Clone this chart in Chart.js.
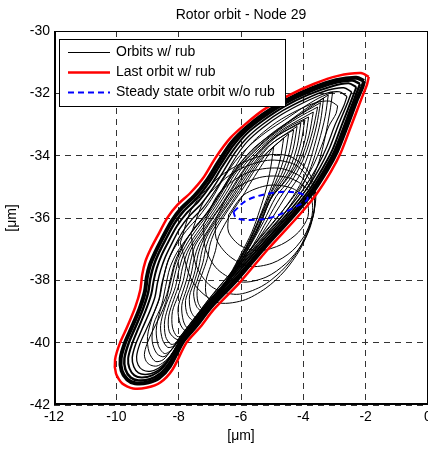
<!DOCTYPE html>
<html lang="en">
<head>
<meta charset="UTF-8">
<title>Rotor orbit - Node 29</title>
<script src="https://cdn.jsdelivr.net/npm/chart.js@4"></script>
<style>
  html, body { margin: 0; padding: 0; background: #fff; overflow: hidden; }
  #wrap { width: 428px; height: 449px; overflow: hidden; }
</style>
</head>
<body>
<div id="wrap"><canvas id="orbitChart" width="440" height="449"></canvas></div>
<script>
// axis ticks
const xTicks = [-12, -10, -8, -6, -4, -2, 0];
const yTicks = [-42, -40, -38, -36, -34, -32, -30];

// last orbit with rub (red), [x, y] in um
const lastOrbit = [
  [-1.90,-31.47],[-2.15,-31.35],[-2.89,-31.44],[-3.67,-31.70],[-4.50,-32.08],[-5.28,-32.53],
  [-5.85,-32.98],[-6.34,-33.43],[-6.82,-34.07],[-7.21,-34.71],[-7.62,-35.19],[-8.04,-35.58],
  [-8.36,-35.99],[-8.69,-36.60],[-8.91,-37.02],[-9.07,-37.40],[-9.17,-37.82],[-9.23,-38.30],
  [-9.39,-38.85],[-9.65,-39.49],[-9.88,-40.00],[-10.04,-40.54],[-10.01,-40.99],[-9.81,-41.31],
  [-9.46,-41.47],[-9.01,-41.44],[-8.59,-41.28],[-8.20,-40.87],[-7.75,-40.00],[-7.30,-39.49],
  [-6.88,-38.94],[-6.05,-38.08],[-5.15,-37.02],[-4.18,-35.96],[-3.60,-35.26],[-3.12,-34.52],
  [-2.80,-33.91],[-2.48,-33.08],[-2.15,-32.21],[-1.96,-31.73],[-1.90,-31.47]
];

// steady state orbit without rub (blue dashed)
const steadyOrbit = [
  [-6.24,-35.80],[-5.79,-35.42],[-4.95,-35.19],[-4.18,-35.19],[-3.86,-35.38],[-4.31,-35.67],
  [-5.05,-35.99],[-5.92,-36.06],[-6.18,-35.96],[-6.24,-35.80]
];

// transient orbits with rub (black)
const bandOrbit1 = [
  [-2.05,-31.60],[-2.30,-31.50],[-2.95,-31.58],[-3.75,-31.85],[-4.55,-32.22],[-5.30,-32.68],
  [-5.85,-33.12],[-6.30,-33.58],[-6.72,-34.20],[-7.10,-34.80],[-7.50,-35.30],[-7.92,-35.70],
  [-8.22,-36.10],[-8.55,-36.70],[-8.75,-37.10],[-8.92,-37.50],[-9.02,-37.90],[-9.08,-38.35],
  [-9.25,-38.90],[-9.50,-39.50],[-9.72,-40.00],[-9.86,-40.50],[-9.83,-40.90],[-9.65,-41.18],
  [-9.40,-41.30],[-9.00,-41.28],[-8.62,-41.12],[-8.28,-40.75],[-7.85,-39.95],[-7.40,-39.42],
  [-6.97,-38.86],[-6.15,-38.00],[-5.25,-36.95],[-4.30,-35.90],[-3.72,-35.20],[-3.24,-34.46],
  [-2.92,-33.86],[-2.60,-33.05],[-2.28,-32.20],[-2.10,-31.78],[-2.05,-31.60]
];
const bandOrbit1b = [
  [-2.18,-31.70],[-2.43,-31.59],[-3.03,-31.68],[-3.80,-31.95],[-4.58,-32.32],[-5.30,-32.78],
  [-5.84,-33.21],[-6.26,-33.68],[-6.66,-34.28],[-7.04,-34.88],[-7.43,-35.38],[-7.84,-35.78],
  [-8.14,-36.18],[-8.45,-36.75],[-8.65,-37.15],[-8.81,-37.55],[-8.91,-37.95],[-8.98,-38.40],
  [-9.15,-38.93],[-9.40,-39.53],[-9.61,-40.03],[-9.74,-40.50],[-9.71,-40.86],[-9.54,-41.12],
  [-9.29,-41.21],[-8.93,-41.17],[-8.59,-40.99],[-8.27,-40.60],[-7.88,-39.90],[-7.44,-39.38],
  [-7.01,-38.82],[-6.20,-37.96],[-5.30,-36.92],[-4.36,-35.88],[-3.79,-35.18],[-3.31,-34.43],
  [-2.99,-33.83],[-2.68,-33.03],[-2.37,-32.20],[-2.18,-31.70]
];
const bandOrbit2 = [
  [-2.30,-31.80],[-2.55,-31.68],[-3.10,-31.78],[-3.85,-32.05],[-4.60,-32.42],[-5.30,-32.88],
  [-5.82,-33.30],[-6.22,-33.78],[-6.60,-34.35],[-6.97,-34.95],[-7.35,-35.45],[-7.75,-35.85],
  [-8.05,-36.25],[-8.35,-36.80],[-8.55,-37.20],[-8.70,-37.60],[-8.80,-38.00],[-8.88,-38.45],
  [-9.05,-38.95],[-9.30,-39.55],[-9.50,-40.05],[-9.62,-40.50],[-9.58,-40.82],[-9.42,-41.05],
  [-9.18,-41.12],[-8.85,-41.05],[-8.55,-40.85],[-8.25,-40.45],[-7.90,-39.85],[-7.47,-39.33],
  [-7.05,-38.78],[-6.25,-37.92],[-5.35,-36.88],[-4.42,-35.85],[-3.85,-35.15],[-3.38,-34.40],
  [-3.06,-33.80],[-2.76,-33.00],[-2.45,-32.20],[-2.30,-31.80]
];
const bandOrbit2b = [
  [-2.45,-31.95],[-2.70,-31.82],[-3.23,-31.90],[-3.93,-32.18],[-4.65,-32.55],[-5.31,-33.00],
  [-5.81,-33.43],[-6.19,-33.90],[-6.55,-34.48],[-6.91,-35.05],[-7.28,-35.55],[-7.67,-35.95],
  [-7.97,-36.35],[-8.25,-36.88],[-8.44,-37.28],[-8.58,-37.68],[-8.68,-38.08],[-8.76,-38.53],
  [-8.93,-39.00],[-9.18,-39.58],[-9.38,-40.05],[-9.49,-40.48],[-9.44,-40.77],[-9.29,-40.97],
  [-9.05,-41.02],[-8.75,-40.94],[-8.48,-40.73],[-8.20,-40.35],[-7.88,-39.80],[-7.46,-39.28],
  [-7.05,-38.73],[-6.28,-37.87],[-5.40,-36.84],[-4.49,-35.82],[-3.93,-35.12],[-3.47,-34.38],
  [-3.16,-33.76],[-2.87,-33.00],[-2.58,-32.30],[-2.45,-31.95]
];
const bandOrbit3 = [
  [-2.60,-32.10],[-2.85,-31.95],[-3.35,-32.02],[-4.00,-32.30],[-4.70,-32.68],[-5.32,-33.12],
  [-5.80,-33.55],[-6.15,-34.02],[-6.50,-34.60],[-6.85,-35.15],[-7.20,-35.65],[-7.58,-36.05],
  [-7.88,-36.45],[-8.15,-36.95],[-8.33,-37.35],[-8.45,-37.75],[-8.55,-38.15],[-8.63,-38.60],
  [-8.80,-39.05],[-9.05,-39.60],[-9.25,-40.05],[-9.35,-40.45],[-9.30,-40.72],[-9.15,-40.88],
  [-8.92,-40.92],[-8.65,-40.82],[-8.40,-40.60],[-8.15,-40.25],[-7.85,-39.75],[-7.45,-39.22],
  [-7.05,-38.68],[-6.30,-37.82],[-5.45,-36.80],[-4.55,-35.78],[-4.00,-35.08],[-3.55,-34.35],
  [-3.25,-33.72],[-2.98,-33.00],[-2.70,-32.40],[-2.60,-32.10]
];
const bandOrbit4 = [
  [-2.90,-32.40],[-3.15,-32.25],[-3.60,-32.30],[-4.20,-32.55],[-4.85,-32.92],[-5.40,-33.35],
  [-5.82,-33.78],[-6.12,-34.25],[-6.45,-34.82],[-6.78,-35.35],[-7.10,-35.85],[-7.45,-36.25],
  [-7.72,-36.65],[-7.95,-37.10],[-8.12,-37.50],[-8.22,-37.90],[-8.32,-38.30],[-8.42,-38.72],
  [-8.60,-39.15],[-8.85,-39.65],[-9.02,-40.05],[-9.10,-40.38],[-9.04,-40.60],[-8.90,-40.72],
  [-8.70,-40.75],[-8.47,-40.62],[-8.25,-40.40],[-8.05,-40.10],[-7.80,-39.68],[-7.43,-39.15],
  [-7.05,-38.62],[-6.32,-37.75],[-5.52,-36.78],[-4.65,-35.75],[-4.12,-35.05],[-3.70,-34.35],
  [-3.42,-33.70],[-3.18,-33.05],[-2.95,-32.65],[-2.90,-32.40]
];
const fanOrbit1 = [
  [-3.06,-31.96],[-3.15,-32.60],[-3.30,-33.40],[-3.50,-34.20],[-3.80,-34.90],[-4.40,-35.75],
  [-5.30,-36.80],[-6.20,-37.80],[-7.00,-38.65],[-7.55,-39.30],[-7.95,-39.80],[-8.25,-40.25],
  [-8.50,-40.55],[-8.75,-40.60],[-8.95,-40.30],[-9.00,-39.80],[-8.85,-39.20],[-8.62,-38.60],
  [-8.50,-38.00],[-8.35,-37.40],[-8.10,-36.90],[-7.75,-36.40],[-7.35,-35.95],[-6.95,-35.40],
  [-6.60,-34.80],[-6.20,-34.20],[-5.75,-33.70],[-5.20,-33.25],[-4.60,-32.85],[-4.00,-32.45],
  [-3.50,-32.15],[-3.06,-31.96]
];
const fanOrbit1b = [
  [-3.20,-32.05],[-3.30,-32.75],[-3.50,-33.55],[-3.75,-34.35],[-4.05,-35.00],[-4.60,-35.85],
  [-5.45,-36.85],[-6.30,-37.85],[-7.05,-38.68],[-7.58,-39.32],[-7.95,-39.82],[-8.22,-40.22],
  [-8.47,-40.45],[-8.70,-40.35],[-8.85,-39.95],[-8.80,-39.40],[-8.55,-38.80],[-8.42,-38.20],
  [-8.28,-37.60],[-8.05,-37.10],[-7.70,-36.60],[-7.30,-36.10],[-6.90,-35.55],[-6.50,-34.95],
  [-6.10,-34.40],[-5.65,-33.90],[-5.10,-33.40],[-4.50,-32.95],[-3.85,-32.50],[-3.20,-32.05]
];
const fanOrbit2 = [
  [-3.35,-32.15],[-3.45,-32.90],[-3.65,-33.70],[-3.90,-34.50],[-4.20,-35.10],[-4.80,-35.95],
  [-5.60,-36.90],[-6.40,-37.85],[-7.10,-38.70],[-7.60,-39.35],[-7.95,-39.85],[-8.20,-40.20],
  [-8.45,-40.35],[-8.65,-40.10],[-8.72,-39.60],[-8.60,-39.00],[-8.38,-38.45],[-8.25,-37.90],
  [-8.10,-37.35],[-7.85,-36.85],[-7.50,-36.35],[-7.12,-35.90],[-6.75,-35.35],[-6.40,-34.75],
  [-6.00,-34.20],[-5.55,-33.72],[-5.00,-33.30],[-4.40,-32.85],[-3.85,-32.45],[-3.35,-32.15]
];
const fanOrbit2b = [
  [-3.45,-32.30],[-3.58,-33.05],[-3.80,-33.85],[-4.10,-34.60],[-4.50,-35.20],[-5.00,-36.00],
  [-5.60,-36.90],[-6.30,-37.80],[-6.95,-38.60],[-7.50,-39.30],[-7.90,-39.80],[-8.15,-40.10],
  [-8.35,-40.15],[-8.52,-39.90],[-8.58,-39.45],[-8.45,-38.90],[-8.25,-38.35],[-8.12,-37.80],
  [-7.98,-37.30],[-7.72,-36.80],[-7.38,-36.30],[-7.00,-35.80],[-6.65,-35.25],[-6.30,-34.65],
  [-5.90,-34.10],[-5.45,-33.65],[-4.90,-33.20],[-4.30,-32.80],[-3.45,-32.30]
];
const fanOrbit3 = [
  [-3.54,-32.44],[-3.70,-33.20],[-3.95,-34.00],[-4.30,-34.70],[-4.75,-35.35],[-5.15,-36.05],
  [-5.60,-36.85],[-6.10,-37.60],[-6.60,-38.35],[-7.05,-38.95],[-7.45,-39.45],[-7.80,-39.80],
  [-8.05,-40.00],[-8.25,-40.05],[-8.42,-39.80],[-8.45,-39.30],[-8.30,-38.75],[-8.10,-38.20],
  [-8.00,-37.70],[-7.85,-37.20],[-7.60,-36.75],[-7.25,-36.25],[-6.90,-35.75],[-6.55,-35.20],
  [-6.20,-34.60],[-5.80,-34.10],[-5.35,-33.65],[-4.80,-33.20],[-4.20,-32.80],[-3.54,-32.44]
];
const fanOrbit3b = [
  [-3.68,-32.60],[-3.82,-33.35],[-4.08,-34.12],[-4.45,-34.78],[-4.88,-35.32],[-5.28,-36.12],
  [-5.78,-37.02],[-6.30,-37.85],[-6.80,-38.55],[-7.22,-39.08],[-7.55,-39.48],[-7.82,-39.78],
  [-8.05,-39.90],[-8.30,-39.65],[-8.32,-39.15],[-8.16,-38.62],[-7.98,-38.10],[-7.88,-37.60],
  [-7.72,-37.10],[-7.48,-36.68],[-7.12,-36.18],[-6.78,-35.68],[-6.42,-35.12],[-6.08,-34.55],
  [-5.68,-34.05],[-5.22,-33.60],[-4.65,-33.15],[-3.68,-32.60]
];
const fanOrbit4 = [
  [-3.83,-32.76],[-3.95,-33.50],[-4.20,-34.25],[-4.60,-34.85],[-5.00,-35.30],[-5.40,-36.20],
  [-5.95,-37.20],[-6.50,-38.10],[-7.00,-38.75],[-7.40,-39.20],[-7.65,-39.50],[-7.85,-39.75],
  [-8.05,-39.80],[-8.20,-39.50],[-8.20,-39.00],[-8.02,-38.50],[-7.85,-38.00],[-7.75,-37.50],
  [-7.60,-37.00],[-7.35,-36.60],[-7.00,-36.10],[-6.65,-35.60],[-6.30,-35.05],[-5.95,-34.50],
  [-5.55,-34.00],[-5.10,-33.55],[-4.50,-33.10],[-3.83,-32.76]
];
const fanOrbit4b = [
  [-3.95,-32.85],[-4.08,-33.60],[-4.32,-34.35],[-4.70,-34.95],[-5.05,-35.40],[-5.40,-36.25],
  [-5.90,-37.20],[-6.45,-38.10],[-6.95,-38.75],[-7.35,-39.20],[-7.60,-39.50],[-7.78,-39.62],
  [-7.95,-39.40],[-8.02,-38.90],[-7.88,-38.40],[-7.72,-37.90],[-7.62,-37.40],[-7.48,-36.90],
  [-7.22,-36.50],[-6.90,-36.00],[-6.55,-35.50],[-6.20,-34.95],[-5.85,-34.40],[-5.45,-33.90],
  [-4.90,-33.40],[-3.95,-32.85]
];
const fanOrbit5 = [
  [-4.08,-32.95],[-4.20,-33.70],[-4.45,-34.45],[-4.80,-35.00],[-5.10,-35.50],[-5.45,-36.35],
  [-5.95,-37.30],[-6.45,-38.10],[-6.90,-38.70],[-7.25,-39.15],[-7.50,-39.45],[-7.70,-39.55],
  [-7.85,-39.30],[-7.90,-38.80],[-7.75,-38.30],[-7.60,-37.80],[-7.50,-37.30],[-7.35,-36.85],
  [-7.10,-36.45],[-6.78,-35.95],[-6.45,-35.45],[-6.10,-34.90],[-5.75,-34.35],[-5.35,-33.85],
  [-4.80,-33.35],[-4.08,-32.95]
];
const fanOrbit5b = [
  [-4.20,-33.06],[-4.33,-33.80],[-4.58,-34.52],[-4.90,-35.08],[-5.20,-35.65],[-5.52,-36.42],
  [-6.00,-37.32],[-6.48,-38.10],[-6.90,-38.68],[-7.22,-39.10],[-7.48,-39.32],[-7.72,-39.10],
  [-7.78,-38.65],[-7.62,-38.18],[-7.47,-37.68],[-7.38,-37.18],[-7.22,-36.72],[-6.98,-36.32],
  [-6.66,-35.85],[-6.32,-35.35],[-5.98,-34.80],[-5.62,-34.28],[-5.15,-33.72],[-4.20,-33.06]
];
const fanOrbit6 = [
  [-4.31,-33.17],[-4.45,-33.90],[-4.70,-34.60],[-5.00,-35.15],[-5.30,-35.80],[-5.60,-36.50],
  [-6.05,-37.35],[-6.50,-38.10],[-6.90,-38.65],[-7.20,-39.05],[-7.45,-39.20],[-7.62,-38.95],
  [-7.65,-38.50],[-7.50,-38.05],[-7.35,-37.55],[-7.25,-37.05],[-7.10,-36.60],[-6.85,-36.20],
  [-6.55,-35.75],[-6.20,-35.25],[-5.85,-34.70],[-5.50,-34.20],[-5.00,-33.60],[-4.31,-33.17]
];
const fanOrbit6b = [
  [-4.47,-33.30],[-4.60,-34.02],[-4.83,-34.70],[-5.10,-35.30],[-5.40,-36.00],[-5.72,-36.72],
  [-6.15,-37.50],[-6.58,-38.20],[-6.92,-38.70],[-7.20,-39.00],[-7.42,-38.85],[-7.52,-38.40],
  [-7.38,-37.92],[-7.22,-37.42],[-7.12,-36.92],[-6.95,-36.48],[-6.70,-36.08],[-6.38,-35.62],
  [-6.05,-35.12],[-5.70,-34.58],[-5.32,-34.05],[-4.47,-33.30]
];
const fanOrbit7 = [
  [-4.63,-33.43],[-4.75,-34.15],[-4.95,-34.80],[-5.20,-35.45],[-5.50,-36.20],[-5.85,-36.95],
  [-6.25,-37.65],[-6.65,-38.30],[-6.95,-38.75],[-7.20,-38.95],[-7.38,-38.70],[-7.40,-38.25],
  [-7.25,-37.80],[-7.08,-37.30],[-6.98,-36.80],[-6.80,-36.35],[-6.55,-35.95],[-6.25,-35.50],
  [-5.90,-35.00],[-5.55,-34.45],[-5.15,-33.90],[-4.63,-33.43]
];
const fanOrbit8 = [
  [-4.95,-33.70],[-5.05,-34.40],[-5.20,-35.10],[-5.40,-35.75],[-5.65,-36.45],[-6.00,-37.15],
  [-6.35,-37.80],[-6.70,-38.35],[-6.95,-38.65],[-7.12,-38.45],[-7.12,-38.00],[-6.98,-37.55],
  [-6.82,-37.05],[-6.72,-36.60],[-6.52,-36.20],[-6.25,-35.75],[-5.95,-35.30],[-5.65,-34.80],
  [-5.30,-34.25],[-4.95,-33.70]
];
const loopOrbit1 = [
  [-6.40,-35.90],[-5.90,-35.25],[-5.10,-34.95],[-4.35,-35.05],[-3.90,-35.45],[-3.85,-35.95],
  [-4.15,-36.45],[-4.70,-36.85],[-5.40,-37.05],[-6.00,-36.90],[-6.40,-36.45],[-6.40,-35.90]
];
const loopOrbit2 = [
  [-6.80,-36.00],[-6.30,-35.15],[-5.40,-34.70],[-4.50,-34.70],[-3.85,-35.10],[-3.70,-35.75],
  [-3.90,-36.45],[-4.35,-37.05],[-5.00,-37.45],[-5.75,-37.55],[-6.40,-37.20],[-6.80,-36.65],
  [-6.80,-36.00]
];
const loopOrbit3 = [
  [-7.20,-36.20],[-6.70,-35.20],[-5.80,-34.55],[-4.80,-34.40],[-4.05,-34.70],[-3.65,-35.35],
  [-3.75,-36.20],[-4.05,-36.85],[-4.55,-37.45],[-5.20,-37.90],[-6.00,-38.05],[-6.75,-37.65],
  [-7.15,-36.95],[-7.20,-36.20]
];
const loopOrbit4 = [
  [-7.60,-36.50],[-7.15,-35.40],[-6.25,-34.55],[-5.15,-34.15],[-4.25,-34.30],[-3.70,-34.95],
  [-3.65,-35.80],[-3.90,-36.50],[-4.20,-37.10],[-4.70,-37.70],[-5.35,-38.20],[-6.15,-38.45],
  [-6.95,-38.20],[-7.45,-37.50],[-7.60,-36.50]
];
const loopOrbit5 = [
  [-7.95,-36.80],[-7.55,-35.65],[-6.65,-34.65],[-5.50,-34.05],[-4.50,-34.00],[-3.85,-34.50],
  [-3.60,-35.30],[-3.80,-36.30],[-4.10,-37.00],[-4.60,-37.70],[-5.20,-38.25],[-5.95,-38.65],
  [-6.80,-38.70],[-7.55,-38.05],[-7.95,-36.80]
];

const rubOrbits = [bandOrbit1, bandOrbit1b, bandOrbit2, bandOrbit2b, bandOrbit3, bandOrbit4,
  fanOrbit1, fanOrbit1b, fanOrbit2, fanOrbit2b, fanOrbit3, fanOrbit3b, fanOrbit4, fanOrbit4b,
  fanOrbit5, fanOrbit5b, fanOrbit6, fanOrbit6b, fanOrbit7, fanOrbit8,
  loopOrbit1, loopOrbit2, loopOrbit3, loopOrbit4, loopOrbit5];
const rubWidths = [4, 2.5, 2, 1.5, 1.2, 1, 1, 1, 1, 1, 1, 1, 1, 1, 1, 1, 1, 1, 1, 1,
  1, 1, 1, 1, 1];

const toXY = arr => arr.map(p => ({ x: p[0], y: p[1] }));

Chart.defaults.font.family = '"Liberation Sans", Arial, sans-serif';
Chart.defaults.font.size = 14;
Chart.defaults.color = '#000';

// frame, legend and title drawn on top of the plot
const frameAndLegend = {
  id: 'frameAndLegend',
  afterDatasetsDraw(chart) {
    const { ctx, chartArea: a } = chart;
    ctx.save();
    ctx.strokeStyle = '#000';
    ctx.setLineDash([]);
    ctx.lineWidth = 1;
    ctx.beginPath();
    ctx.moveTo(a.left, a.top + 0.5); ctx.lineTo(a.right, a.top + 0.5);
    ctx.moveTo(a.right - 0.5, a.top); ctx.lineTo(a.right - 0.5, a.bottom);
    ctx.stroke();
    ctx.lineWidth = 2;
    ctx.beginPath();
    ctx.moveTo(a.left + 1, a.top); ctx.lineTo(a.left + 1, a.bottom);
    ctx.moveTo(a.left, a.bottom - 1); ctx.lineTo(a.right, a.bottom - 1);
    ctx.stroke();

    // legend box
    const bx = a.left + 5.5, by = a.top + 8.5, bw = 226, bh = 67;
    ctx.fillStyle = '#fff';
    ctx.fillRect(bx, by, bw, bh);
    ctx.lineWidth = 1;
    ctx.strokeRect(bx, by, bw, bh);
    const rows = [
      { text: 'Orbits w/ rub', color: '#000', width: 1, dash: [] },
      { text: 'Last orbit w/ rub', color: '#ff0000', width: 2.5, dash: [] },
      { text: 'Steady state orbit w/o rub', color: '#0000ff', width: 2, dash: [6, 4] }
    ];
    ctx.font = '14px "Liberation Sans", Arial, sans-serif';
    ctx.textBaseline = 'middle';
    ctx.textAlign = 'left';
    rows.forEach((r, i) => {
      const y = a.top + 21.5 + i * 20;
      ctx.strokeStyle = r.color;
      ctx.lineWidth = r.width;
      ctx.setLineDash(r.dash);
      ctx.beginPath();
      ctx.moveTo(a.left + 14, y); ctx.lineTo(a.left + 56, y);
      ctx.stroke();
      ctx.fillStyle = '#000';
      ctx.fillText(r.text, a.left + 62, y);
    });

    // title
    ctx.textAlign = 'center';
    ctx.fillText('Rotor orbit - Node 29', (a.left + a.right) / 2, 15);
    ctx.restore();
  }
};

const datasets = [
  { label: 'Steady state orbit w/o rub', data: toXY(steadyOrbit), borderColor: '#0000ff',
    borderWidth: 2, borderDash: [6, 4], tension: 0.35 },
  { label: 'Last orbit w/ rub', data: toXY(lastOrbit), borderColor: '#ff0000',
    borderWidth: 2.5, tension: 0.25 }
];
rubOrbits.forEach((orb, i) => {
  datasets.push({ label: 'Orbits w/ rub', data: toXY(orb), borderColor: '#000',
    borderWidth: rubWidths[i], tension: 0.3 });
});
datasets.forEach(d => { d.showLine = true; d.pointRadius = 0; d.fill = false; });

new Chart(document.getElementById('orbitChart'), {
  type: 'scatter',
  data: { datasets: datasets },
  options: {
    responsive: false,
    animation: false,
    layout: { padding: { top: 31, right: 12, bottom: 0, left: 0 } },
    plugins: { legend: { display: false }, tooltip: { enabled: false } },
    scales: {
      x: {
        type: 'linear', min: -12, max: 0,
        afterBuildTicks: s => { s.ticks = xTicks.map(v => ({ value: v })); },
        afterFit: s => { s.height = 44; },
        ticks: { padding: 4, maxRotation: 0, autoSkip: false },
        grid: { color: '#333', lineWidth: 1, drawTicks: false },
        border: { display: false, dash: [6, 5] },
        title: { display: true, text: '[\u03bcm]', padding: { top: 0, bottom: 4 } }
      },
      y: {
        type: 'linear', min: -42, max: -30,
        afterBuildTicks: s => { s.ticks = yTicks.map(v => ({ value: v })); },
        afterFit: s => { s.width = 54; },
        ticks: { padding: 4, autoSkip: false },
        grid: { color: '#333', lineWidth: 1, drawTicks: false },
        border: { display: false, dash: [6, 5] },
        title: { display: true, text: '[\u03bcm]', padding: { top: 4, bottom: 0 } }
      }
    }
  },
  plugins: [frameAndLegend]
});
</script>
</body>
</html>
